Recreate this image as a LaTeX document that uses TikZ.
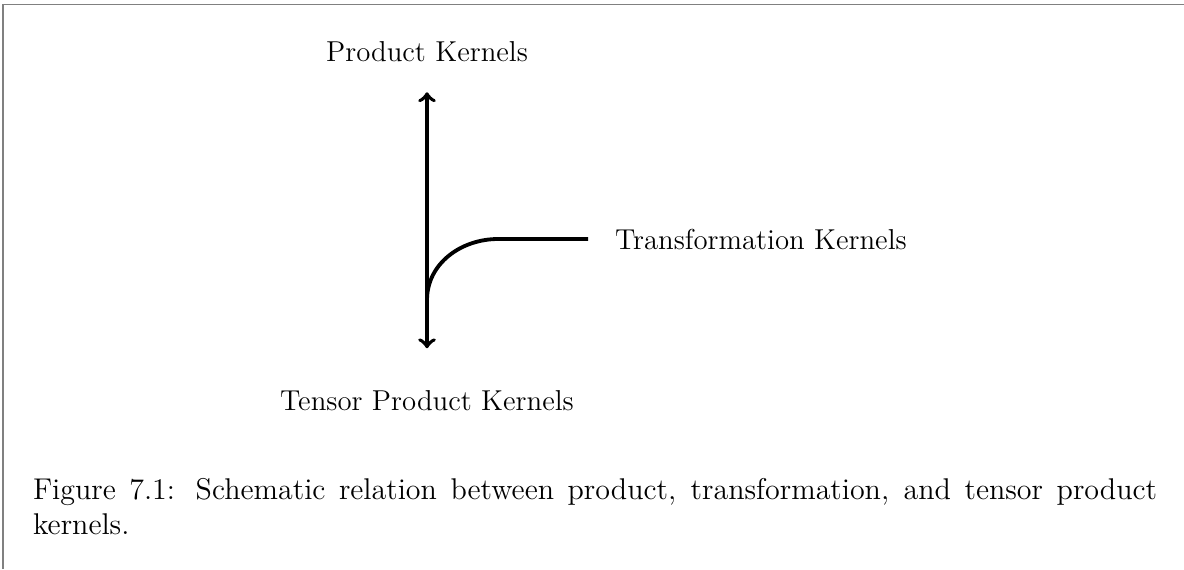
\documentclass[tikz,border=0pt]{standalone}
\usepackage{tikz}
\begin{document}
\begin{tikzpicture}[x=0.4167pt,y=-0.4167pt,
  lab/.style={font=\fontsize{12pt}{14.5pt}\selectfont, inner sep=0pt, outer sep=0pt},
  caplab/.style={font=\fontsize{12.5pt}{15pt}\selectfont, inner sep=0pt, outer sep=0pt},
  conn/.style={line width=1.6pt},
  frameline/.style={gray, line width=0.5pt}]
\useasboundingbox (0,0) rectangle (1184,569);
% frame
\draw[frameline] (3,569) -- (3,4.5) -- (1184,4.5);
% labels
\node[lab, anchor=base] (pk) at (427,61) {Product Kernels};
\node[lab, anchor=base] (tpk) at (427,410) {Tensor Product Kernels};
\node[lab, anchor=base west] (tk) at (615,249) {Transformation Kernels};
% connectors
\coordinate (jn) at (427,300);
\coordinate (hc) at (498,239);
\draw[conn, <->, shorten <=12.9pt, shorten >=17.4pt] (pk.south) -- (tpk.north);
\draw[conn, shorten <=11.2pt] (tk.west) -- (hc) to[out=180,in=90] (jn);
% caption
\node[caplab, anchor=base west] (cap1) at (33,499) {\makebox[468.4pt][s]{Figure 7.1: Schematic relation between product, transformation, and tensor product}};
\node[caplab, anchor=base west] (cap2) at (33,534) {kernels.};
\end{tikzpicture}
\end{document}
